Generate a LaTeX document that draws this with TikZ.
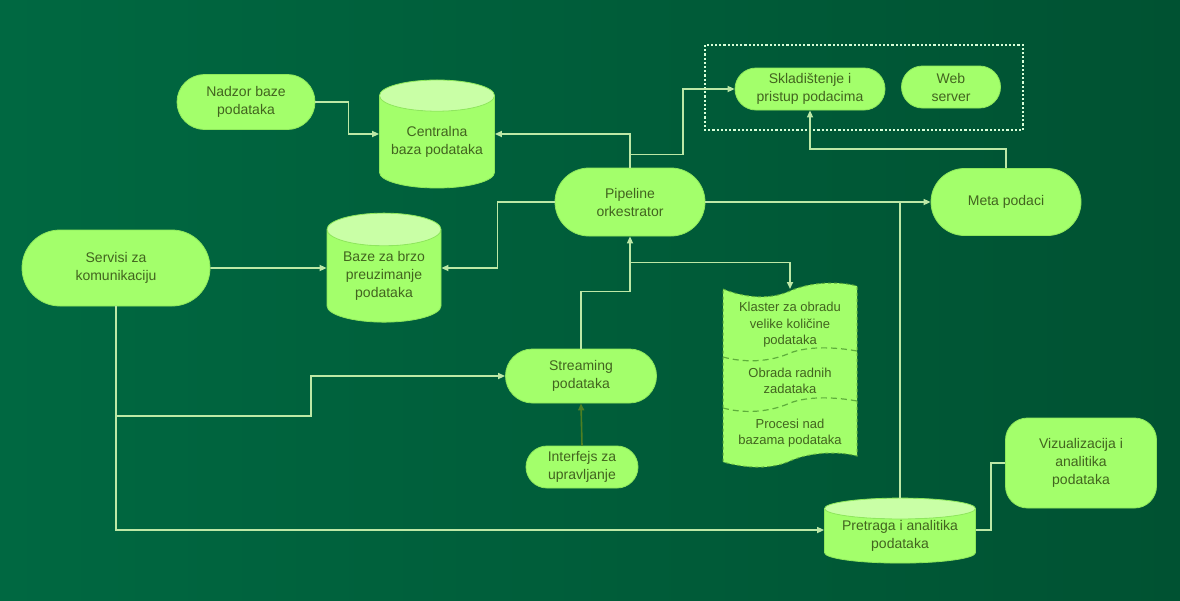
\documentclass[tikz,border=0pt]{standalone}
\usepackage{fontspec}
\setmainfont{Liberation Sans}
\usetikzlibrary{shapes.geometric,shapes.misc,arrows.meta}
\definecolor{bgleft}{HTML}{006841}
\definecolor{bgmid}{HTML}{008262}
\definecolor{bgright}{HTML}{005232}
\definecolor{lime}{HTML}{A3FF6B}
\definecolor{limetop}{HTML}{C9FFA6}
\definecolor{limeedge}{HTML}{8FE85C}
\definecolor{txt}{HTML}{42641F}
\definecolor{wire}{HTML}{BDE8A6}
\definecolor{wiredark}{HTML}{4E7F22}
\definecolor{dashgreen}{HTML}{5EAE3C}
\begin{document}
\begin{tikzpicture}[x=1pt,y=-1pt,
    box/.style={rounded rectangle, draw=limeedge, line width=0.8pt, fill=lime, text=txt,
      align=center, inner sep=0pt, font=\fontsize{14}{18}\selectfont},
    db/.style={cylinder, shape border rotate=90, aspect=#1, draw=limeedge, line width=0.8pt,
      cylinder uses custom fill, cylinder body fill=lime, cylinder end fill=limetop,
      text=txt, align=center, inner sep=0pt, font=\fontsize{14}{18}\selectfont},
    kltext/.style={text=txt, align=center, font=\fontsize{13}{16.5}\selectfont},
    link/.style={draw=wire, line width=1.6pt},
    >={Triangle[length=7pt,width=6pt]}]
  \useasboundingbox (0,0) rectangle (1180,600);
  \shade[left color=bgleft, middle color=bgmid, right color=bgright] (0,0) rectangle (1180,600);

  % storage group
  \draw[white!85!green, line width=2.2pt, dash pattern=on 2.2pt off 2pt] (705,45) rectangle (1023,130);

  \node[box, minimum width=138, minimum height=55] (nadzor) at (246,102) {Nadzor baze\\podataka};
  \node[db=0.34, minimum width=115, minimum height=108] (centralna) at (437,142) {Centralna\\baza podataka};
  \node[box, minimum width=188, minimum height=76] (servisi) at (116,268) {Servisi za\\komunikaciju};
  \node[db=0.4, minimum width=114, minimum height=109] (baze) at (384,276) {Baze za brzo\\preuzimanje\\podataka};
  \node[box, minimum width=150, minimum height=68] (pipeline) at (630,202) {Pipeline\\orkestrator};
  \node[box, minimum width=150, minimum height=42] (sklad) at (810,89) {Skladištenje i\\pristup podacima};
  \node[box, minimum width=99, minimum height=42] (web) at (951,87) {Web\\server};
  \node[box, minimum width=150, minimum height=67] (meta) at (1006,202) {Meta podaci};
  \node[box, minimum width=151, minimum height=54] (stream) at (581,376) {Streaming\\podataka};
  \node[box, minimum width=112, minimum height=42] (interfejs) at (582,467) {Interfejs za\\upravljanje};
  \node[db=0.18, minimum width=151, minimum height=65] (pretraga) at (900,536) {Pretraga i analitika\\podataka};
  \node[box, rectangle, rounded corners=22, minimum width=151, minimum height=90] (vizual) at (1081,463) {Vizualizacija i\\analitika\\podataka};

  % processing cluster
  \draw[dashgreen, fill=lime, line width=1pt, dashed]
    (723,289) .. controls (745,298) and (770,300) .. (790,291)
    .. controls (810,282) and (838,281) .. (857,286) -- (857,456)
    .. controls (838,451) and (810,452) .. (790,461)
    .. controls (770,470) and (745,468) .. (723,462) -- cycle;
  \draw[dashgreen, line width=1.2pt, dash pattern=on 6pt off 4pt]
    (723,357) .. controls (745,363) and (770,362) .. (790,353) .. controls (808,346) and (835,347) .. (857,351);
  \draw[dashgreen, line width=1.2pt, dash pattern=on 6pt off 4pt]
    (723,408) .. controls (745,414) and (770,412) .. (790,403) .. controls (808,396) and (835,397) .. (857,401);
  \node[kltext] (klaster) at (790,325) {Klaster za obradu\\velike količine\\podataka};
  \node[kltext] (obrada) at (790,381) {Obrada radnih\\zadataka};
  \node[kltext] (procesi) at (790,433) {Procesi nad\\bazama podataka};
  \coordinate (kltop) at (790,289);
  \coordinate (split) at (116,416);

  % connectors
  \draw[link,->] (nadzor.east) -- ++(33,0) |- ([yshift=8pt]centralna.west);
  \draw[link,->] (pipeline.north) |- ([yshift=8pt]centralna.east);
  \draw[link,->] ([yshift=13pt]pipeline.north) -- ++(53,0) |- (sklad.west);
  \draw[link,->] (pipeline.west) -- ++(-57,0) |- ([yshift=8pt]baze.east);
  \draw[link,->] (servisi.east) -- ([yshift=8pt]baze.west);
  \draw[link,->] (pipeline.east) -- (meta.west);
  \draw[link,->] (meta.north) -- ++(0,-19) -| (sklad.south);
  \draw[link] (pretraga.north) -- (pretraga.north |- meta.west);
  \draw[link,->] (stream.north) -- ++(0,-57) -| (pipeline.south);
  \draw[link,->] ([yshift=-26pt]pipeline.south) -| (kltop);
  \draw[link,->] (servisi.south) |- ([yshift=6pt]pretraga.west);
  \draw[link,->] (split) -- ++(195,0) |- (stream.west);
  \draw[draw=wiredark, line width=1.6pt, ->] (interfejs.north) -- (stream.south);
  \draw[link] ([yshift=6pt]pretraga.east) -- ++(15,0) |- (vizual.west);
\end{tikzpicture}
\end{document}
